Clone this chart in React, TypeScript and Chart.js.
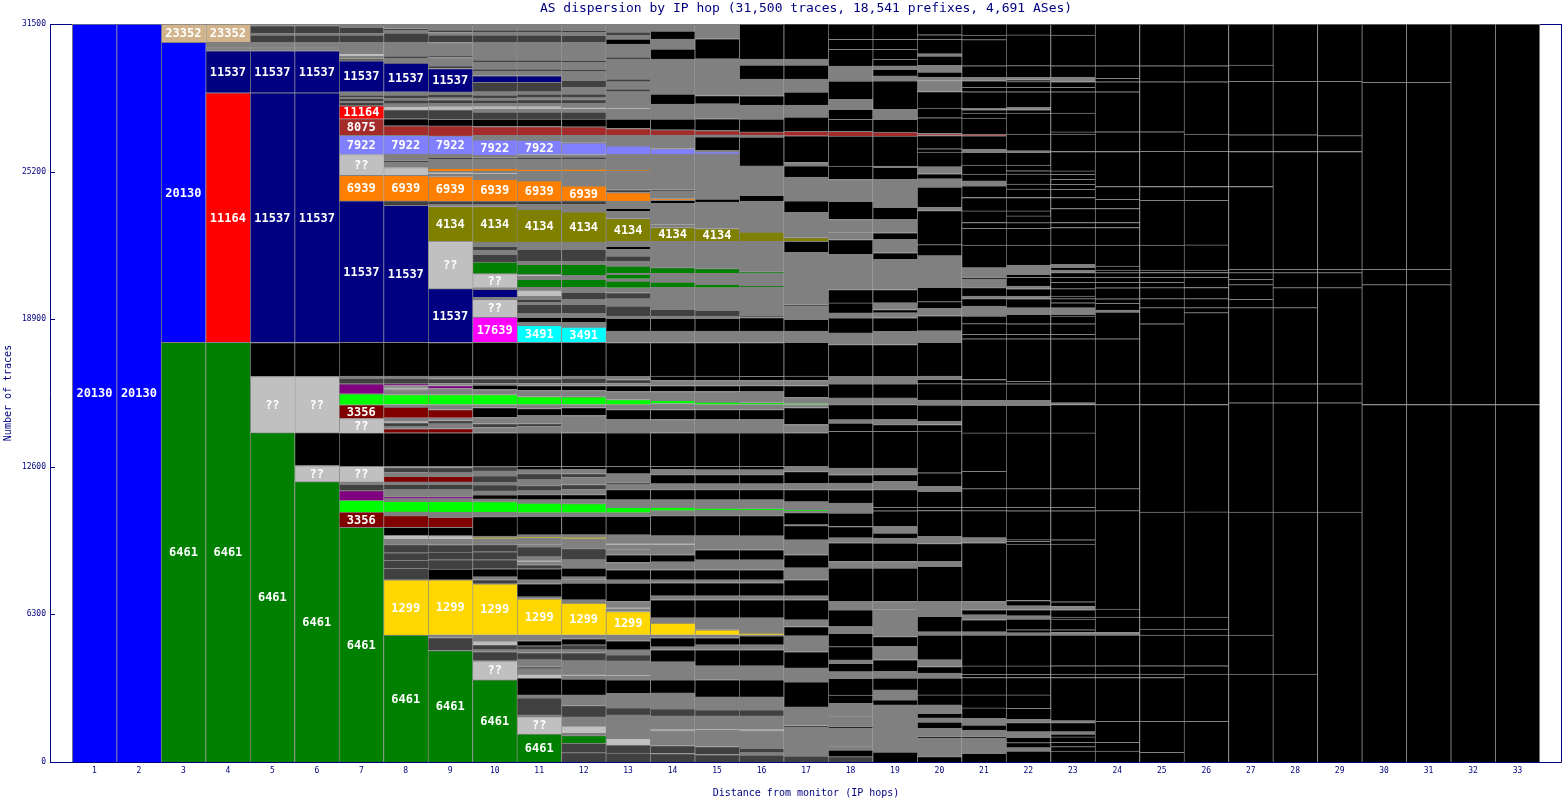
import React, { useEffect, useRef } from 'react';
import { Chart, registerables } from 'chart.js';

Chart.register(...registerables);

const TITLE = 'AS dispersion by IP hop (31,500 traces, 18,541 prefixes, 4,691 ASes)';
const X_TITLE = 'Distance from monitor (IP hops)';
const Y_TITLE = 'Number of traces';
const hopLabels = ['', '1', '2', '3', '4', '5', '6', '7', '8', '9', '10', '11', '12', '13', '14', '15', '16', '17', '18', '19', '20', '21', '22', '23', '24', '25', '26', '27', '28', '29', '30', '31', '32', '33', ''];
const yTicks = [0, 6300, 12600, 18900, 25200, 31500];

// segment key -> fill colour
const AS_COLORS: Record<string, string> = {
  '20130': '#0000ff', '6461': '#008000', '11537': '#000080', '11164': '#ff0000',
  '23352': '#d2b48c', '??': '#c0c0c0', '3356': '#800000', '8075': '#a52a2a',
  '7922': '#8080ff', '6939': '#ff8000', '4134': '#808000', '1299': '#ffd700',
  '17639': '#ff00ff', '3491': '#00ffff',
  g: '#808080', d: '#404040', k: '#000000', L: '#00ff00', p: '#800080',
};
const LABELLED = ['20130', '6461', '11537', '11164', '23352', '??', '3356', '8075', '7922', '6939', '4134', '1299', '17639', '3491'];

type Seg = [string, number];

const hop01: Seg[] = [['20130', 31500]];
const hop02: Seg[] = [['20130', 31500]];
const hop03: Seg[] = [['6461', 17908], ['20130', 12810], ['23352', 782]];
const hop04: Seg[] = [['6461', 17908], ['11164', 10655], ['11537', 1795], ['g', 94], ['d', 43], ['g', 222], ['23352', 782]];
const hop05: Seg[] = [['6461', 14061], ['??', 2393], ['k', 1453], ['11537', 10655], ['11537', 1795], ['g', 94], ['d', 43], ['g', 222], ['d', 312], ['g', 73], ['d', 325], ['g', 73]];
const hop06: Seg[] = [['6461', 11967], ['??', 684], ['k', 1410], ['??', 2393], ['k', 1453], ['11537', 10655], ['11537', 1795], ['g', 94], ['d', 43], ['g', 222], ['d', 312], ['g', 73], ['d', 325], ['g', 73]];
const hop07: Seg[] = [
  ['6461', 10014], ['3356', 658], ['L', 496], ['p', 415], ['d', 269], ['g', 103], ['??', 667], ['k', 1428], ['??', 611], ['3356', 586], ['L', 470], ['p', 427], ['d', 227], ['g', 98], ['k', 1440],
  ['11537', 6039], ['6939', 1098], ['??', 885], ['7922', 812], ['8075', 709], ['11164', 556], ['d', 145], ['g', 56], ['d', 115], ['g', 43], ['d', 98], ['g', 141], ['11537', 1325], ['d', 85], ['g', 128], ['??', 103], ['g', 470], ['d', 312], ['g', 73], ['d', 256], ['g', 141],
];
const hop08: Seg[] = [
  ['6461', 5415], ['1299', 2364], ['d', 483], ['d', 342], ['d', 329], ['d', 342], ['g', 244], ['??', 154], ['k', 342], ['3356', 500], ['g', 158], ['L', 453], ['g', 115], ['p', 85], ['g', 299], ['d', 227], ['g', 103], ['3356', 239], ['g', 158], ['d', 214], ['g', 56], ['k', 1428], ['3356', 171], ['g', 111], ['d', 145], ['??', 56], ['g', 158], ['3356', 453], ['g', 115], ['L', 427], ['g', 214], ['??', 73], ['g', 98], ['p', 73], ['d', 227], ['g', 98], ['k', 1440],
  ['11537', 5855], ['d', 184], ['6939', 1098], ['??', 329], ['g', 227], ['d', 64], ['g', 278], ['7922', 799], ['8075', 410], ['k', 299], ['d', 385], ['??', 145], ['g', 111], ['d', 158], ['g', 85], ['d', 128], ['g', 141], ['11537', 1227], ['g', 214], ['d', 85], ['g', 598], ['d', 385], ['g', 128], ['d', 64], ['g', 196],
];
const hop09: Seg[] = [
  ['6461', 4757], ['d', 556], ['g', 115], ['1299', 2351], ['k', 457], ['d', 397], ['d', 329], ['d', 312], ['g', 244], ['??', 141], ['k', 355], ['3356', 427], ['g', 231], ['L', 453], ['g', 115], ['p', 85], ['g', 299], ['d', 227], ['g', 103], ['3356', 239], ['g', 158], ['d', 214], ['g', 56], ['k', 1428], ['3356', 184], ['g', 200], ['d', 140], ['??', 43], ['g', 74], ['3356', 355], ['g', 214], ['L', 427], ['g', 256], ['p', 128], ['g', 85], ['d', 214], ['g', 98], ['k', 1440],
  ['11537', 2295], ['??', 2034], ['4134', 1470], ['g', 98], ['d', 141], ['6939', 1043], ['g', 98], ['??', 73], ['g', 68], ['6939', 115], ['g', 385], ['d', 85], ['g', 128], ['7922', 782], ['8075', 427], ['k', 286], ['d', 397], ['??', 145], ['g', 141], ['d', 150], ['g', 85], ['d', 150], ['g', 98], ['11537', 1000], ['d', 111], ['g', 359], ['d', 68], ['g', 573], ['d', 312], ['g', 115], ['d', 98], ['g', 263],
];
const hop10: Seg[] = [
  ['6461', 3505], ['??', 812], ['d', 385], ['g', 85], ['d', 214], ['??', 141], ['g', 286], ['1299', 2180], ['d', 171], ['g', 128], ['k', 342], ['d', 385], ['d', 342], ['d', 299], ['g', 256], ['1299', 43], ['g', 73], ['k', 825], ['g', 188], ['L', 453], ['g', 115], ['k', 171], ['g', 171], ['d', 256], ['g', 115], ['d', 269], ['g', 214], ['d', 184], ['k', 1441], ['g', 227], ['d', 171], ['g', 256], ['k', 427], ['g', 128], ['L', 427], ['g', 214], ['k', 184], ['g', 73], ['d', 214], ['g', 98], ['k', 1440],
  ['17639', 1081], ['??', 756], ['g', 85], ['11537', 342], ['g', 73], ['??', 598], ['6461', 496], ['d', 329], ['g', 171], ['d', 171], ['g', 184], ['4134', 1513], ['g', 98], ['d', 141], ['6939', 927], ['g', 214], ['??', 64], ['g', 77], ['6939', 115], ['g', 385], ['d', 64], ['g', 107], ['7922', 654], ['g', 201], ['8075', 372], ['k', 312], ['d', 299], ['g', 128], ['??', 115], ['g', 141], ['d', 128], ['g', 85], ['d', 128], ['g', 141], ['d', 402], ['11537', 282], ['g', 201], ['d', 85], ['g', 299], ['d', 85], ['g', 769], ['d', 299], ['g', 128], ['d', 85], ['g', 263],
];
const hop11: Seg[] = [
  ['6461', 1197], ['??', 739], ['g', 73], ['d', 727], ['g', 128], ['k', 714], ['??', 171], ['g', 227], ['d', 85], ['g', 299], ['d', 299], ['g', 128], ['d', 171], ['k', 214], ['g', 256], ['1299', 1539], ['g', 85], ['k', 556], ['g', 171], ['k', 470], ['d', 171], ['g', 128], ['??', 43], ['g', 171], ['d', 427], ['g', 85], ['g', 269], ['1299', 43], ['g', 115], ['k', 782], ['g', 158], ['L', 415], ['g', 141], ['k', 214], ['g', 171], ['d', 214], ['g', 256], ['d', 256], ['g', 171], ['k', 141], ['k', 1428], ['g', 269], ['d', 128], ['g', 342], ['k', 299], ['g', 171], ['L', 342], ['g', 256], ['k', 214], ['g', 85], ['d', 214], ['g', 98], ['k', 1442],
  ['3491', 727], ['g', 128], ['k', 214], ['g', 171], ['d', 385], ['g', 85], ['d', 128], ['g', 128], ['??', 269], ['g', 115], ['6461', 342], ['g', 128], ['??', 85], ['6461', 427], ['g', 128], ['d', 513], ['g', 312], ['4134', 1398], ['g', 214], ['d', 141], ['6939', 855], ['g', 415], ['6939', 85], ['g', 427], ['d', 85], ['g', 115], ['7922', 611], ['g', 214], ['8075', 372], ['k', 312], ['d', 299], ['g', 128], ['??', 115], ['g', 141], ['d', 150], ['g', 107], ['d', 128], ['g', 98], ['d', 402], ['11537', 282], ['g', 201], ['d', 85], ['g', 299], ['d', 85], ['g', 769], ['d', 299], ['g', 128], ['d', 85], ['g', 263],
];
const hop12: Seg[] = [
  ['d', 397], ['d', 402], ['6461', 325], ['g', 103], ['??', 312], ['g', 385], ['d', 483], ['g', 457], ['k', 671], ['g', 141], ['??', 73], ['g', 568], ['d', 342], ['g', 128], ['d', 214], ['k', 256], ['g', 171], ['1299', 1356], ['g', 141], ['k', 714], ['g', 141], ['g', 128], ['k', 372], ['g', 355], ['d', 470], ['g', 427], ['1299', 56], ['g', 115], ['k', 782], ['g', 158], ['L', 385], ['g', 171], ['k', 214], ['g', 214], ['d', 214], ['g', 299], ['d', 171], ['g', 171], ['k', 141], ['k', 1428], ['g', 739], ['k', 342], ['g', 128], ['L', 329], ['g', 269], ['k', 214], ['g', 85], ['d', 214], ['g', 98], ['k', 1440],
  ['3491', 654], ['g', 201], ['k', 214], ['g', 171], ['d', 385], ['g', 214], ['d', 299], ['g', 214], ['6461', 342], ['g', 171], ['6461', 470], ['g', 128], ['d', 513], ['g', 312], ['4134', 1282], ['g', 329], ['d', 141], ['6939', 641], ['g', 628], ['6939', 85], ['g', 427], ['d', 85], ['g', 115], ['7922', 500], ['g', 325], ['8075', 355], ['k', 329], ['d', 299], ['g', 128], ['??', 85], ['g', 171], ['d', 150], ['g', 107], ['d', 128], ['g', 299], ['d', 286], ['g', 385], ['d', 85], ['g', 299], ['d', 85], ['g', 769], ['d', 299], ['g', 128], ['d', 85], ['g', 275],
];
const hop13: Seg[] = [
  ['d', 385], ['d', 342], ['??', 286], ['g', 996], ['d', 299], ['g', 342], ['g', 286], ['k', 568], ['g', 171], ['??', 43], ['g', 598], ['d', 256], ['g', 214], ['k', 385], ['g', 256], ['1299', 996], ['g', 115], ['??', 43], ['g', 269], ['k', 786], ['g', 141], ['k', 427], ['g', 312], ['k', 329], ['g', 214], ['g', 214], ['??', 43], ['g', 385], ['k', 782], ['g', 158], ['L', 227], ['g', 329], ['k', 427], ['g', 214], ['d', 85], ['g', 385], ['k', 312], ['k', 1428], ['g', 568], ['k', 427], ['g', 214], ['L', 214], ['g', 342], ['k', 256], ['g', 85], ['d', 171], ['g', 141], ['k', 1440],
  ['g', 483], ['k', 543], ['g', 98], ['d', 427], ['g', 316], ['d', 256], ['g', 214], ['6461', 282], ['g', 103], ['6461', 184], ['g', 43], ['6461', 312], ['g', 214], ['d', 214], ['g', 286], ['k', 128], ['g', 227], ['4134', 957], ['g', 312], ['k', 128], ['g', 312], ['6939', 359], ['d', 120], ['g', 791], ['6939', 43], ['g', 684], ['7922', 355], ['g', 457], ['8075', 286], ['k', 397], ['g', 427], ['??', 43], ['g', 697], ['d', 115], ['g', 312], ['d', 115], ['g', 855], ['d', 85], ['g', 556], ['k', 214], ['g', 171], ['d', 128], ['g', 344],
];
const hop14: Seg[] = [
  ['d', 363], ['d', 342], ['g', 641], ['??', 43], ['g', 577], ['d', 299], ['g', 684], ['k', 556], ['g', 769], ['k', 513], ['g', 128], ['k', 385], ['g', 128], ['1299', 500], ['g', 227], ['k', 769], ['g', 171], ['k', 556], ['g', 128], ['k', 427], ['g', 342], ['k', 299], ['g', 427], ['??', 43], ['g', 342], ['k', 855], ['g', 214], ['L', 141], ['g', 329], ['k', 427], ['g', 256], ['k', 385], ['g', 214], ['k', 141], ['k', 1428], ['g', 568], ['k', 427], ['g', 256], ['L', 141], ['g', 372], ['k', 256], ['g', 214], ['k', 184], ['k', 1440],
  ['g', 483], ['k', 543], ['g', 98], ['d', 286], ['g', 940], ['6461', 227], ['g', 372], ['6461', 244], ['g', 1137], ['4134', 573], ['g', 98], ['??', 43], ['g', 897], ['k', 128], ['6939', 64], ['g', 321], ['d', 64], ['g', 1517], ['7922', 244], ['g', 568], ['8075', 227], ['k', 457], ['g', 641], ['k', 427], ['g', 1496], ['k', 427], ['g', 427], ['k', 342], ['g', 302],
];
const hop15: Seg[] = [
  ['d', 321], ['d', 342], ['g', 705], ['??', 43], ['g', 556], ['d', 256], ['g', 556], ['k', 727], ['g', 598], ['k', 684], ['g', 214], ['k', 299], ['g', 128], ['1299', 214], ['g', 513], ['k', 769], ['g', 171], ['k', 556], ['g', 128], ['k', 427], ['g', 427], ['k', 427], ['g', 598], ['k', 855], ['g', 235], ['L', 85], ['g', 363], ['k', 427], ['g', 256], ['k', 385], ['g', 214], ['k', 141], ['k', 1428], ['g', 568], ['k', 427], ['g', 214], ['L', 107], ['g', 449], ['k', 256], ['g', 214], ['k', 184], ['k', 1440],
  ['g', 483], ['k', 543], ['g', 98], ['d', 244], ['g', 970], ['6461', 141], ['g', 470], ['6461', 201], ['g', 1180], ['4134', 534], ['g', 1133], ['k', 128], ['g', 1923], ['7922', 98], ['g', 43], ['k', 586], ['g', 85], ['8075', 184], ['k', 500], ['g', 641], ['k', 355], ['g', 1568], ['k', 855], ['g', 630],
];
const hop16: Seg[] = [
  ['d', 299], ['g', 98], ['d', 188], ['g', 761], ['??', 43], ['g', 577], ['d', 256], ['g', 556], ['k', 727], ['g', 598], ['k', 684], ['g', 214], ['k', 385], ['g', 43], ['1299', 64], ['g', 662], ['k', 769], ['g', 171], ['k', 556], ['g', 128], ['k', 427], ['g', 427], ['k', 427], ['g', 598], ['k', 855], ['g', 235], ['L', 64], ['g', 384], ['k', 427], ['g', 256], ['k', 385], ['g', 214], ['k', 141], ['k', 1428], ['g', 568], ['k', 427], ['g', 214], ['L', 85], ['g', 471], ['k', 256], ['g', 214], ['k', 184], ['k', 1440],
  ['g', 483], ['k', 585], ['d', 56], ['g', 1248], ['6461', 43], ['g', 534], ['6461', 73], ['g', 1308], ['4134', 385], ['g', 1325], ['k', 244], ['g', 1252], ['k', 1227], ['g', 85], ['8075', 141], ['k', 543], ['g', 598], ['k', 397], ['g', 714], ['k', 598], ['g', 256], ['k', 1498],
];
const hop17: Seg[] = [
  ['d', 256], ['g', 470], ['g', 769], ['d', 64], ['g', 791], ['k', 1069], ['g', 598], ['k', 684], ['g', 684], ['k', 397], ['g', 286], ['k', 855], ['g', 171], ['k', 684], ['g', 513], ['k', 556], ['g', 641], ['k', 598], ['g', 43], ['k', 513], ['g', 64], ['L', 43], ['g', 364], ['k', 513], ['g', 256], ['k', 513], ['g', 226], ['k', 1428], ['g', 355], ['k', 727], ['g', 128], ['L', 43], ['g', 256], ['k', 513], ['g', 214], ['k', 184], ['k', 1440],
  ['g', 483], ['k', 500], ['g', 556], ['d', 64], ['g', 2244], ['k', 470], ['4134', 158], ['g', 1081], ['k', 483], ['g', 1013], ['k', 483], ['g', 145], ['k', 1137], ['8075', 188], ['k', 611], ['g', 513], ['k', 556], ['g', 556], ['k', 598], ['g', 256], ['k', 1498],
];
const hop18: Seg[] = [
  ['d', 227], ['k', 286], ['g', 141], ['g', 786], ['k', 68], ['g', 427], ['g', 570], ['k', 355], ['k', 714], ['g', 282], ['k', 359], ['g', 141], ['k', 568], ['k', 573], ['g', 282], ['k', 714], ['g', 355], ['k', 1427], ['g', 282], ['k', 799], ['g', 214], ['k', 483], ['k', 573], ['g', 427], ['k', 568], ['g', 286], ['k', 355], ['g', 286], ['k', 1564], ['k', 359], ['g', 141], ['k', 641], ['g', 286], ['k', 598], ['g', 325], ['k', 1355], ['g', 496], ['k', 641], ['g', 214], ['k', 427], ['k', 568], ['g', 1496], ['k', 641], ['g', 286], ['g', 568], ['k', 782], ['g', 927], ['k', 568], ['k', 1282], ['8075', 201], ['k', 513], ['k', 427], ['g', 427], ['k', 782], ['g', 214], ['g', 427], ['k', 714], ['k', 427], ['k', 655],
];
const hop19: Seg[] = [
  ['k', 427], ['g', 1013], ['g', 996], ['k', 214], ['g', 427], ['k', 500], ['g', 282], ['k', 500], ['g', 568], ['k', 427], ['g', 1141], ['g', 355], ['k', 1427], ['g', 282], ['k', 786], ['g', 214], ['k', 214], ['g', 282], ['k', 671], ['k', 141], ['k', 756], ['g', 355], ['k', 286], ['g', 286], ['k', 1564], ['k', 286], ['g', 214], ['k', 641], ['g', 286], ['k', 598], ['g', 325], ['k', 1355], ['g', 568], ['k', 573], ['g', 214], ['k', 141], ['g', 286], ['k', 568], ['g', 1282], ['k', 286], ['g', 568], ['k', 286], ['g', 568], ['k', 513], ['g', 269], ['g', 927], ['k', 513], ['g', 56], ['k', 1282], ['8075', 171], ['k', 543], ['g', 427], ['k', 1210], ['g', 214], ['k', 286], ['g', 141], ['k', 286], ['k', 427], ['k', 427], ['k', 649],
];
const hop20: Seg[] = [
  ['k', 227], ['g', 786], ['k', 68], ['g', 359], ['k', 269], ['g', 171], ['k', 201], ['g', 355], ['k', 427], ['k', 714], ['g', 214], ['k', 286], ['g', 286], ['k', 1056], ['g', 141], ['k', 654], ['g', 641], ['k', 1496], ['g', 214], ['k', 756], ['g', 312], ['k', 1098], ['k', 141], ['k', 684], ['g', 214], ['k', 573], ['k', 1778], ['k', 286], ['g', 141], ['k', 684], ['g', 214], ['k', 701], ['k', 184], ['g', 141], ['k', 1440], ['g', 496], ['k', 641], ['g', 316], ['k', 282], ['k', 615], ['g', 923], ['g', 427], ['k', 470], ['k', 1453], ['g', 145], ['k', 855], ['g', 355], ['k', 214], ['g', 299], ['k', 628], ['k', 141], ['k', 568], ['8075', 85], ['k', 671], ['k', 415], ['k', 709], ['g', 470], ['g', 145], ['k', 214], ['g', 282], ['k', 402], ['g', 98], ['k', 611], ['k', 201], ['k', 457],
];
const hop21: Seg[] = [
  ['k', 372], ['g', 141], ['g', 250], ['g', 250], ['k', 68], ['g', 286], ['k', 214], ['g', 286], ['k', 440], ['k', 556], ['k', 739], ['k', 145], ['k', 355], ['k', 1312], ['g', 141], ['k', 513], ['g', 214], ['k', 214], ['g', 355], ['k', 2509], ['g', 214], ['k', 1154], ['k', 141], ['k', 799], ['k', 739], ['k', 1641], ['k', 1180], ['g', 214], ['k', 701], ['k', 184], ['k', 1740], ['k', 184], ['k', 457], ['k', 325], ['g', 427], ['k', 316], ['g', 111], ['k', 359], ['g', 355], ['k', 73], ['g', 427], ['k', 966], ['k', 714], ['k', 244], ['k', 496], ['k', 573], ['k', 496], ['g', 214], ['k', 286], ['k', 385], ['k', 543], ['g', 141], ['k', 568], ['8075', 73], ['k', 684], ['k', 214], ['k', 141], ['g', 60], ['k', 709], ['k', 188], ['k', 282], ['g', 145], ['k', 496], ['k', 1111], ['k', 201], ['k', 470],
];
const hop22: Seg[] = [
  ['k', 470], ['g', 141], ['k', 214], ['k', 231], ['g', 239], ['k', 385], ['g', 145], ['k', 470], ['k', 568], ['k', 739], ['k', 145], ['k', 355], ['k', 1312], ['g', 98], ['k', 128], ['k', 457], ['g', 141], ['k', 256], ['g', 171], ['k', 227], ['k', 2411], ['k', 111], ['k', 73], ['k', 1239], ['k', 141], ['k', 799], ['k', 2381], ['k', 1180], ['g', 214], ['k', 701], ['k', 111], ['k', 1812], ['k', 184], ['k', 457], ['k', 397], ['g', 286], ['k', 385], ['g', 111], ['k', 316], ['g', 111], ['k', 372], ['k', 128], ['g', 397], ['k', 855], ['k', 714], ['k', 244], ['k', 286], ['k', 214], ['k', 573], ['k', 355], ['k', 214], ['k', 427], ['k', 141], ['k', 244], ['k', 543], ['g', 68], ['k', 714], ['k', 898], ['k', 141], ['g', 103], ['k', 667], ['k', 188], ['k', 239], ['k', 85], ['g', 103], ['k', 496], ['k', 1312], ['k', 467],
];
const hop23: Seg[] = [
  ['k', 470], ['k', 184], ['k', 188], ['k', 227], ['k', 128], ['g', 98], ['k', 385], ['g', 85], ['k', 1838], ['k', 145], ['k', 355], ['k', 1312], ['g', 111], ['k', 115], ['k', 457], ['k', 85], ['k', 312], ['g', 141], ['k', 201], ['k', 2466], ['k', 184], ['k', 1239], ['k', 141], ['k', 799], ['k', 2381], ['k', 1210], ['g', 73], ['k', 812], ['k', 1923], ['k', 184], ['k', 457], ['k', 325], ['k', 73], ['g', 286], ['k', 214], ['k', 171], ['k', 111], ['k', 316], ['k', 269], ['k', 214], ['k', 201], ['g', 111], ['k', 115], ['g', 128], ['k', 825], ['k', 744], ['k', 214], ['k', 598], ['k', 470], ['k', 355], ['k', 214], ['k', 214], ['k', 214], ['k', 141], ['k', 829], ['k', 739], ['k', 98], ['k', 799], ['k', 910], ['k', 188], ['k', 239], ['g', 115], ['g', 85], ['k', 483], ['k', 1312], ['k', 474],
];
const hop24: Seg[] = [
  ['k', 470], ['k', 372], ['k', 898], ['k', 1863], ['k', 145], ['k', 355], ['k', 1312], ['g', 111], ['k', 658], ['k', 342], ['k', 4201], ['k', 940], ['k', 3590], ['k', 885], ['k', 1923], ['k', 1137], ['g', 85], ['k', 286], ['k', 201], ['k', 470], ['k', 227], ['k', 214], ['k', 201], ['k', 111], ['k', 171], ['k', 898], ['k', 744], ['k', 214], ['k', 598], ['k', 397], ['k', 543], ['k', 1496], ['k', 838], ['k', 1710], ['k', 427], ['k', 145], ['k', 539], ['k', 1782],
];
const hop25: Seg[] = [
  ['k', 415], ['k', 1325], ['k', 1863], ['k', 145], ['k', 355], ['k', 1312], ['k', 256], ['k', 513], ['k', 4488], ['k', 4586], ['k', 885], ['k', 2564], ['k', 684], ['k', 385], ['k', 470], ['k', 227], ['k', 214], ['k', 201], ['k', 111], ['k', 1069], ['k', 1910], ['k', 586], ['k', 1496], ['k', 838], ['k', 2137], ['k', 684], ['k', 1782],
];
const hop26: Seg[] = [
  ['k', 1740], ['k', 2009], ['k', 355], ['k', 1312], ['k', 256], ['k', 513], ['k', 4488], ['k', 4586], ['k', 885], ['k', 3035], ['k', 214], ['k', 385], ['k', 470], ['k', 440], ['k', 201], ['k', 111], ['k', 1069], ['k', 1910], ['k', 586], ['k', 1496], ['k', 739], ['k', 2235], ['k', 684], ['k', 1782],
];
const hop27: Seg[] = [
  ['k', 3748], ['k', 1667], ['k', 5257], ['k', 4659], ['k', 812], ['k', 3248], ['k', 355], ['k', 628], ['k', 227], ['k', 286], ['k', 141], ['k', 3535], ['k', 1496], ['k', 709], ['k', 2282], ['k', 697], ['k', 1752],
];
const hop28: Seg[] = [
  ['k', 3748], ['k', 6924], ['k', 4659], ['k', 812], ['k', 3248], ['k', 855], ['k', 641], ['k', 141], ['k', 5031], ['k', 709], ['k', 2282], ['k', 2449],
];
const hop29: Seg[] = [
  ['k', 10672], ['k', 4659], ['k', 812], ['k', 4103], ['k', 641], ['k', 141], ['k', 5031], ['k', 675], ['k', 2317], ['k', 2449],
];
const hop30: Seg[] = [['k', 15258], ['k', 5116], ['k', 654], ['k', 7980], ['k', 2492]];
const hop31: Seg[] = [['k', 15258], ['k', 5116], ['k', 654], ['k', 7980], ['k', 2492]];
const hop32: Seg[] = [['k', 15258], ['k', 16242]];
const hop33: Seg[] = [['k', 15258], ['k', 16242]];

const hops: Seg[][] = [hop01, hop02, hop03, hop04, hop05, hop06, hop07, hop08, hop09, hop10, hop11, hop12, hop13, hop14, hop15, hop16, hop17, hop18, hop19, hop20, hop21, hop22, hop23, hop24, hop25, hop26, hop27, hop28, hop29, hop30, hop31, hop32, hop33];
const columns: (Seg[] | null)[] = [null, ...hops, null];

const NAVY = '#000080';
const MONO = '"DejaVu Sans Mono", "Liberation Mono", monospace';

export default function App() {
  const ref = useRef<HTMLCanvasElement | null>(null);

  useEffect(() => {
    if (!ref.current) return;
    const maxLayers = Math.max(...hops.map((h) => h.length));
    const datasets: any[] = [];
    for (let k = 0; k < maxLayers; k++) {
      datasets.push({
        data: columns.map((c) => (c && c[k] ? c[k][1] : null)),
        backgroundColor: columns.map((c) => (c && c[k] ? AS_COLORS[c[k][0]] : 'rgba(0,0,0,0)')),
        borderColor: '#808080',
        borderWidth: (ctx: any) => ({ top: 1, left: 1, bottom: 0, right: ctx.dataIndex === 33 ? 1 : 0 }),
        borderSkipped: false,
        barPercentage: 1,
        categoryPercentage: 1,
      });
    }

    const decor = {
      id: 'decor',
      beforeDatasetsDraw(chart: any) {
        const { ctx, chartArea: a } = chart;
        ctx.save();
        ctx.strokeStyle = NAVY;
        ctx.lineWidth = 1;
        ctx.beginPath();
        ctx.moveTo(a.left, a.top + 0.5);
        ctx.lineTo(a.right + 1, a.top + 0.5);
        ctx.stroke();
        ctx.restore();
      },
      afterDatasetsDraw(chart: any) {
        const { ctx, chartArea: a } = chart;
        ctx.save();
        ctx.font = `bold 12px ${MONO}`;
        ctx.fillStyle = '#ffffff';
        ctx.textAlign = 'center';
        ctx.textBaseline = 'middle';
        chart.data.datasets.forEach((_ds: any, k: number) => {
          const meta = chart.getDatasetMeta(k);
          meta.data.forEach((el: any, i: number) => {
            const col = columns[i];
            const seg = col ? col[k] : null;
            if (!seg || LABELLED.indexOf(seg[0]) < 0) return;
            const p = el.getProps(['x', 'y', 'base'], true);
            const h = Math.abs(p.base - p.y);
            if (h < 12) return;
            ctx.fillText(seg[0], p.x, (p.y + p.base) / 2 + 1);
          });
        });
        ctx.strokeStyle = NAVY;
        ctx.lineWidth = 1;
        ctx.beginPath();
        ctx.moveTo(a.left + 0.5, a.top);
        ctx.lineTo(a.left + 0.5, a.bottom + 0.5);
        ctx.lineTo(a.right - 0.5, a.bottom + 0.5);
        ctx.lineTo(a.right - 0.5, a.top);
        ctx.stroke();
        const ys = chart.scales.y;
        ctx.beginPath();
        yTicks.forEach((v) => {
          const py = Math.round(ys.getPixelForValue(v)) + 0.5;
          ctx.moveTo(a.left, py);
          ctx.lineTo(a.left + 5, py);
        });
        ctx.stroke();
        ctx.restore();
      },
      afterDraw(chart: any) {
        const { ctx, chartArea: a } = chart;
        ctx.save();
        ctx.fillStyle = NAVY;
        ctx.textAlign = 'center';
        ctx.textBaseline = 'middle';
        ctx.font = `13px ${MONO}`;
        ctx.fillText(TITLE, (a.left + a.right) / 2, 9);
        ctx.font = `10px ${MONO}`;
        ctx.fillText(X_TITLE, (a.left + a.right) / 2, 793);
        ctx.translate(8, (a.top + a.bottom) / 2);
        ctx.rotate(-Math.PI / 2);
        ctx.fillText(Y_TITLE, 0, 0);
        ctx.restore();
      },
    };

    const chart = new Chart(ref.current, {
      type: 'bar',
      data: { labels: hopLabels, datasets },
      options: {
        animation: false,
        responsive: false,
        devicePixelRatio: 1,
        layout: { padding: { top: 24, right: 0, left: 0, bottom: 0 } },
        plugins: { legend: { display: false }, tooltip: { enabled: false }, title: { display: false } },
        scales: {
          x: {
            type: 'category',
            stacked: true,
            offset: false,
            grid: { display: false, drawTicks: false },
            border: { display: false },
            ticks: { autoSkip: false, maxRotation: 0, minRotation: 0, padding: 4, color: NAVY, font: { family: MONO, size: 8 } },
            afterFit: (s: any) => { s.height = 38; s.paddingLeft = 0; s.paddingRight = 0; },
          },
          y: {
            type: 'linear',
            stacked: true,
            min: 0,
            max: 31500,
            grid: { display: false, drawTicks: false },
            border: { display: false },
            afterBuildTicks: (s: any) => { s.ticks = yTicks.map((v) => ({ value: v })); },
            ticks: { padding: 4, color: NAVY, font: { family: MONO, size: 8 }, callback: (v: any) => String(v) },
            afterFit: (s: any) => { s.width = 50; s.paddingTop = 0; s.paddingBottom = 0; },
          },
        },
      } as any,
      plugins: [decor],
    });
    return () => chart.destroy();
  }, []);

  return (
    <div style={{ position: 'absolute', left: 0, top: 0, width: 1562, height: 800, background: '#fff' }}>
      <canvas ref={ref} width={1562} height={800} style={{ display: 'block' }} />
    </div>
  );
}
